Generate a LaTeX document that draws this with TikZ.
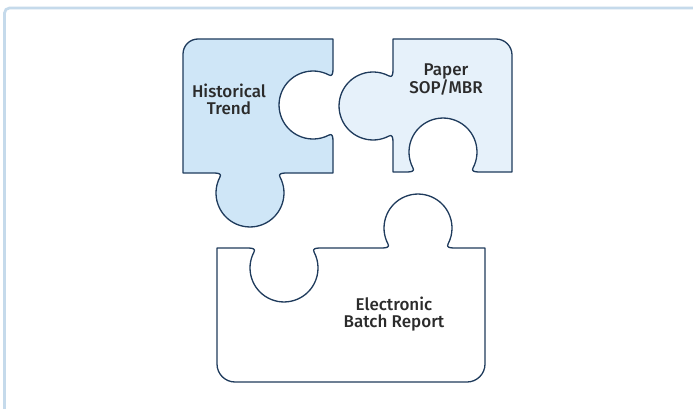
\documentclass[tikz,border=0pt]{standalone}
\usepackage{fontspec}
\newfontfamily\lbl{Fira Sans Medium}
\definecolor{framec}{HTML}{C5DAEB}
\definecolor{edgec}{HTML}{1F3B5C}
\definecolor{pone}{HTML}{CFE6F7}
\definecolor{ptwo}{HTML}{E6F1FA}
\definecolor{txtc}{HTML}{2B2B2B}
\tikzset{
  piece/.style={draw=edgec, line width=1.3pt, line join=round},
  lab/.style={align=center, anchor=base, inner sep=0pt, text=txtc,
    font=\lbl\fontsize{17}{16.5}\selectfont}
}
\begin{document}
\begin{tikzpicture}[x=1pt,y=-1pt]
\useasboundingbox (0,0) rectangle (693,409);
\clip (0,0) rectangle (693,409);
\fill[white] (0,0) rectangle (693,409);
\draw[framec, line width=2.7pt, rounded corners=5pt] (4.5,8) rectangle (720,440);
% piece 1: Historical Trend
\draw[piece, fill=pone] (183,54) arc[start angle=180,end angle=270,radius=15] -- (333,39) -- (333,69)
  .. controls (333,74) and (332,76.6) .. (329,75) arc[start angle=298,end angle=62,radius=34]
  .. controls (332,133.4) and (333,136) .. (333,141) -- (333,173) -- (286,173)
  .. controls (281,173) and (278.4,174) .. (280,177) arc[start angle=-28,end angle=208,radius=34]
  .. controls (221.6,174) and (219,173) .. (214,173) -- (183,173) -- cycle;
% piece 2: Paper SOP/MBR
\draw[piece, fill=ptwo] (393,39) -- (496,39) arc[start angle=270,end angle=360,radius=16] -- (512,172) -- (479,172)
  .. controls (474,172) and (471.4,171) .. (473,168) arc[start angle=388,end angle=152,radius=34]
  .. controls (414.6,171) and (412,172) .. (407,172) -- (393,172) -- (393,142)
  .. controls (393,137) and (392,134.4) .. (389,136) arc[start angle=62,end angle=298,radius=34]
  .. controls (392,77.6) and (393,75) .. (393,70) -- cycle;
% piece 3: Electronic Batch Report
\draw[piece, fill=white] (217,248) -- (248,248)
  .. controls (253,248) and (255.6,249) .. (254,252) arc[start angle=208,end angle=-28,radius=34]
  .. controls (312.4,249) and (315,248) .. (320,248) -- (382,248)
  .. controls (387,248) and (389.6,247) .. (388,244) arc[start angle=152,end angle=388,radius=34]
  .. controls (446.4,247) and (449,248) .. (454,248) -- (485,248) -- (485,364)
  arc[start angle=0,end angle=90,radius=18] -- (235,382)
  arc[start angle=90,end angle=180,radius=18] -- cycle;
\node[lab] (hist) at (229,114) {Historical\\Trend};
\node[lab] (paper) at (446,94) {Paper\\SOP/MBR};
\node[lab] (ebr) at (394,327) {Electronic\\Batch Report};
\end{tikzpicture}
\end{document}
